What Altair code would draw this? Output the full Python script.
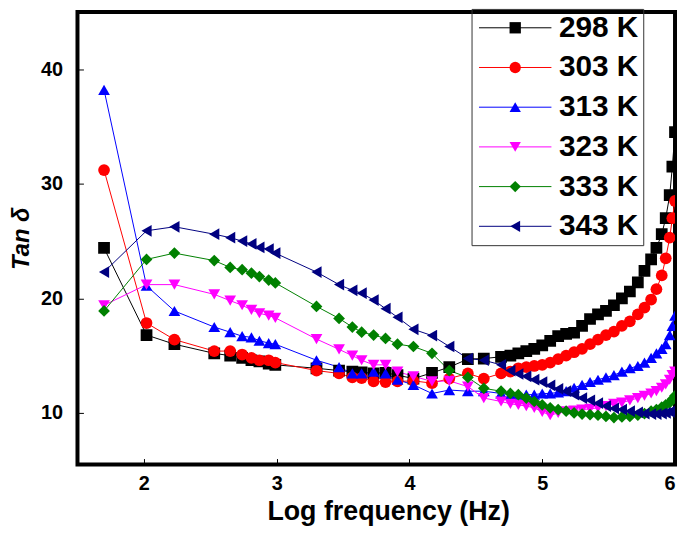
import altair as alt
import pandas as pd

series_names = ["298 K", "303 K", "313 K", "323 K", "333 K", "343 K"]
series_colors = ["#000000", "#ff0000", "#0000ff", "#ff00ff", "#008000", "#000080"]
series_shapes = ["square", "circle", "triangle-up", "triangle-down", "diamond", "triangle-left"]

log_freq = [1.70, 2.02, 2.23, 2.53, 2.65, 2.74, 2.81, 2.87, 2.94, 2.99,
            3.30, 3.47, 3.57, 3.64, 3.73, 3.82, 3.91, 4.03, 4.17, 4.30,
            4.44, 4.56, 4.69, 4.76, 4.82, 4.88, 4.94, 5.00, 5.06, 5.12,
            5.18, 5.24, 5.30, 5.36, 5.42, 5.48, 5.54, 5.60, 5.66, 5.72,
            5.77, 5.82, 5.86, 5.90, 5.93, 5.96, 5.98, 6.00]

tan_298 = [24.4, 16.8, 16.0, 15.2, 15.0, 14.8, 14.6, 14.5, 14.3, 14.2,
           13.9, 13.7, 13.6, 13.55, 13.45, 13.5, 13.3, 13.0, 13.5, 14.0,
           14.7, 14.75, 14.9, 15.0, 15.2, 15.4, 15.6, 15.9, 16.3, 16.7,
           16.9, 17.0, 17.6, 18.2, 18.6, 18.9, 19.4, 20.0, 20.6, 21.4,
           22.4, 23.4, 24.4, 25.6, 27.0, 29.0, 31.5, 34.5]
tan_303 = [31.2, 17.85, 16.4, 15.4, 15.4, 15.1, 14.8, 14.6, 14.6, 14.4,
           13.7, 13.45, 13.1, 13.05, 12.75, 12.7, 12.75, 12.8, 12.6, 13.0,
           13.45, 13.0, 13.45, 13.6, 13.9, 14.0, 14.1, 14.2, 14.4, 14.7,
           15.0, 15.3, 15.6, 16.0, 16.4, 16.8, 17.1, 17.6, 18.0, 18.6,
           19.2, 19.9, 20.8, 22.0, 23.5, 25.3, 27.0, 28.5]
tan_313 = [38.2, 21.1, 18.9, 17.5, 17.05, 16.7, 16.6, 16.3, 16.1, 16.0,
           14.6, 14.0, 13.45, 13.45, 13.6, 13.45, 12.9, 12.45, 11.7, 12.0,
           11.9, 11.9, 11.7, 11.6, 11.6, 11.6, 11.6, 11.7, 11.7, 11.8,
           11.9, 12.2, 12.45, 12.7, 12.9, 13.1, 13.3, 13.6, 13.9, 14.1,
           14.4, 14.8, 15.2, 15.6, 16.0, 16.8, 17.6, 18.5]
tan_323 = [19.4, 21.2, 21.2, 20.35, 19.8, 19.4, 19.0, 18.7, 18.5, 18.3,
           16.45, 15.55, 15.0, 14.6, 14.2, 14.2, 13.6, 13.2, 12.75, 12.8,
           12.3, 11.3, 11.0, 10.8, 10.7, 10.6, 10.45, 10.1, 9.8, 10.0,
           10.15, 10.2, 10.3, 10.35, 10.45, 10.6, 10.8, 10.9, 11.1, 11.3,
           11.5, 11.7, 11.9, 12.2, 12.5, 12.9, 13.3, 13.6]
tan_333 = [18.9, 23.4, 23.95, 23.3, 22.7, 22.5, 22.2, 21.9, 21.6, 21.35,
           19.3, 18.25, 17.5, 17.05, 16.8, 16.5, 16.0, 15.8, 15.2, 13.7,
           13.1, 12.15, 11.9, 11.7, 11.6, 11.3, 11.0, 10.7, 10.45, 10.3,
           10.15, 10.0, 9.9, 9.85, 9.8, 9.7, 9.6, 9.65, 9.7, 9.8,
           9.95, 10.15, 10.3, 10.5, 10.7, 10.9, 11.2, 11.5]
tan_343 = [22.3, 25.9, 26.25, 25.6, 25.3, 25.0, 24.75, 24.45, 24.3, 23.95,
           22.3, 21.2, 20.7, 20.45, 19.85, 19.1, 18.35, 17.3, 16.75, 15.8,
           14.75, 14.6, 14.2, 13.7, 13.4, 13.2, 12.9, 12.7, 12.4, 12.1,
           11.9, 11.6, 11.3, 11.1, 10.85, 10.6, 10.4, 10.3, 10.15, 10.05,
           9.95, 9.9, 9.9, 9.95, 10.0, 10.1, 10.2, 10.3]

all_series = [tan_298, tan_303, tan_313, tan_323, tan_333, tan_343]
rows = []
for name, vals in zip(series_names, all_series):
    for f, v in zip(log_freq, vals):
        rows.append({"series": name, "line_series": "line " + name, "freq": f, "tan": v})
df = pd.DataFrame(rows)
line_names = ["line " + n for n in series_names]

FONT = "Liberation Sans"

x_enc = alt.X("freq:Q",
              scale=alt.Scale(domain=[1.5, 6.0], nice=False, zero=False),
              axis=alt.Axis(values=[2, 3, 4, 5, 6], format="d", title="Log frequency (Hz)",
                            offset=-6, tickSize=6, labelPadding=9, titlePadding=5,
                            titleX=313, titleFontSize=27))
y_enc = alt.Y("tan:Q",
              scale=alt.Scale(domain=[5.5, 45.0], nice=False, zero=False),
              axis=alt.Axis(values=[10, 20, 30, 40], format="d", title="Tan δ",
                            offset=-6, tickSize=6, labelPadding=15, titlePadding=7,
                            titleFontStyle="italic", titleFontSize=24))

common_legend = dict(
    orient="none", legendX=397, legendY=-3, padding=4, title=None,
    labelFont=FONT, labelFontSize=30, labelFontWeight="bold",
    symbolSize=130, rowPadding=10, symbolOffset=25, labelOffset=29,
    symbolStrokeWidth=1,
)
point_legend = alt.Legend(strokeColor="#333333", labelColor="#000000", **common_legend)
line_legend = alt.Legend(symbolType="M-6.4,0H6.4", labelColor="transparent", labelExpr="' '",
                         symbolFillColor="transparent", **common_legend)

lines = alt.Chart(df).mark_line(strokeWidth=1, clip=True).encode(
    x=x_enc, y=y_enc,
    stroke=alt.Stroke("line_series:N",
                      scale=alt.Scale(domain=line_names, range=series_colors),
                      legend=line_legend),
    detail="series:N",
    order="freq:Q",
)

points = alt.Chart(df).mark_point(filled=True, size=140, opacity=1, clip=True).encode(
    x=x_enc, y=y_enc,
    color=alt.Color("series:N", scale=alt.Scale(domain=series_names, range=series_colors),
                    legend=point_legend),
    shape=alt.Shape("series:N", scale=alt.Scale(domain=series_names, range=series_shapes),
                    legend=point_legend),
)

chart = alt.layer(lines, points).properties(
    width=602, height=456,
    autosize=alt.AutoSizeParams(type="none"),
    padding={"left": 70, "top": 2, "right": 2, "bottom": 60},
).configure_view(
    stroke="#000000", strokeWidth=4
).configure_axis(
    domain=False, grid=False, ticks=True, tickColor="#000000", tickWidth=1,
    labelFont=FONT, labelFontSize=20, labelFontWeight="bold", labelColor="#000000",
    titleFont=FONT, titleFontWeight="bold", titleColor="#000000",
)

chart.save("out.html", embed_options={"renderer": "svg", "actions": False})
